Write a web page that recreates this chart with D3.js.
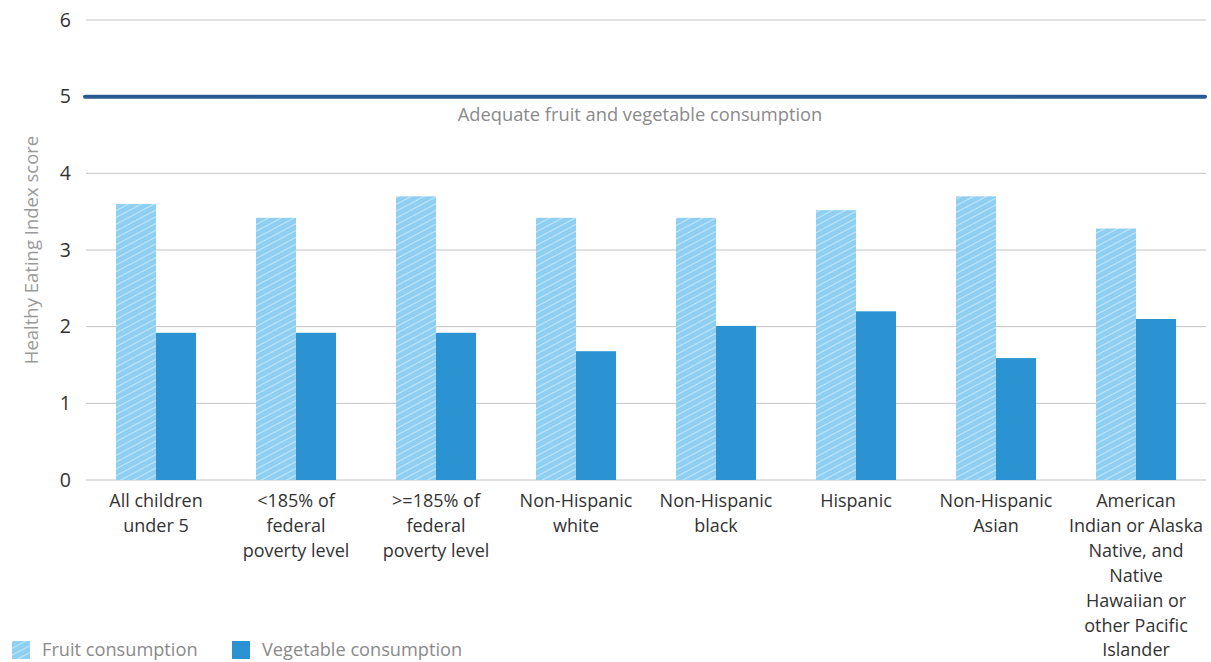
<!DOCTYPE html>
<html>
<head>
<meta charset="utf-8">
<script src="https://cdn.jsdelivr.net/npm/d3@7"></script>
<style>
body { margin:0; background:#fff; }
svg { font-family: "Open Sans", Lato, sans-serif; }
</style>
</head>
<body>
<svg id="chart" width="1211" height="662"></svg>
<script>
var categories = [
  ["All children", "under 5"],
  ["<185% of", "federal", "poverty level"],
  [">=185% of", "federal", "poverty level"],
  ["Non-Hispanic", "white"],
  ["Non-Hispanic", "black"],
  ["Hispanic"],
  ["Non-Hispanic", "Asian"],
  ["American", "Indian or Alaska", "Native, and", "Native", "Hawaiian or", "other Pacific", "Islander"]
];
var fruit = [3.6, 3.42, 3.7, 3.42, 3.42, 3.52, 3.7, 3.28];
var vegetable = [1.92, 1.92, 1.92, 1.68, 2.01, 2.2, 1.59, 2.1];
var yTicks = [0, 1, 2, 3, 4, 5, 6];
var adequate = 5;

var svg = d3.select("#chart");
var x = d3.scaleBand().domain(d3.range(categories.length)).range([86, 1206]).padding(0);
var y = d3.scaleLinear().domain([0, 6]).range([480, 20]);
var barW = 40;

// striped fill for fruit bars
var defs = svg.append("defs");
var pat = defs.append("pattern").attr("id", "stripes").attr("patternUnits", "userSpaceOnUse")
  .attr("width", 6).attr("height", 6).attr("patternTransform", "rotate(62)");
pat.append("rect").attr("width", 6).attr("height", 6).attr("fill", "#8fd0f2");
pat.append("line").attr("x1", 0).attr("y1", 0).attr("x2", 0).attr("y2", 6)
  .attr("stroke", "#c4e6f8").attr("stroke-width", 2);

// grid
svg.append("g").selectAll("line").data(yTicks).join("line")
  .attr("x1", 86).attr("x2", 1206)
  .attr("y1", function(d){ return y(d); }).attr("y2", function(d){ return y(d); })
  .attr("stroke", "#c4c4c4").attr("stroke-width", 1);

svg.append("g").selectAll("text").data(yTicks).join("text")
  .attr("x", 71).attr("y", function(d){ return y(d); }).attr("dy", "0.35em")
  .attr("text-anchor", "end").attr("font-size", 19.5).attr("fill", "#333")
  .text(function(d){ return d; });

svg.append("text").attr("transform", "translate(38,250) rotate(-90)")
  .attr("text-anchor", "middle").attr("font-size", 18.5).attr("fill", "#9a9a9a")
  .text("Healthy Eating Index score");

// bars
svg.append("g").selectAll("rect").data(fruit).join("rect")
  .attr("x", function(d, i){ return x(i) + x.bandwidth() / 2 - barW; })
  .attr("width", barW)
  .attr("y", function(d){ return y(d); })
  .attr("height", function(d){ return y(0) - y(d); })
  .attr("fill", "url(#stripes)");

svg.append("g").selectAll("rect").data(vegetable).join("rect")
  .attr("x", function(d, i){ return x(i) + x.bandwidth() / 2; })
  .attr("width", barW)
  .attr("y", function(d){ return y(d); })
  .attr("height", function(d){ return y(0) - y(d); })
  .attr("fill", "#2b93d1");

// adequate line
svg.append("line").attr("x1", 85).attr("x2", 1205)
  .attr("y1", y(adequate)).attr("y2", y(adequate))
  .attr("stroke", "#285a94").attr("stroke-width", 4).attr("stroke-linecap", "round");
svg.append("text").attr("x", 640).attr("y", y(adequate) + 24)
  .attr("text-anchor", "middle").attr("font-size", 18.3).attr("fill", "#8a8a8a")
  .text("Adequate fruit and vegetable consumption");

// category labels
var labels = svg.append("g").selectAll("text").data(categories).join("text")
  .attr("text-anchor", "middle").attr("font-size", 18).attr("fill", "#333")
  .attr("transform", function(d, i){ return "translate(" + (x(i) + x.bandwidth() / 2) + ",507)"; });
labels.selectAll("tspan").data(function(d){ return d; }).join("tspan")
  .attr("x", 0).attr("y", function(d, j){ return j * 24.9; })
  .text(function(d){ return d; });

// legend
var legend = [["Fruit consumption", "url(#stripes)", 12], ["Vegetable consumption", "#2b93d1", 232]];
var lg = svg.append("g").selectAll("g").data(legend).join("g")
  .attr("transform", function(d){ return "translate(" + d[2] + ",641)"; });
lg.append("rect").attr("width", 18).attr("height", 18).attr("fill", function(d){ return d[1]; });
lg.append("text").attr("x", 30).attr("y", 9).attr("dy", "0.35em")
  .attr("font-size", 18.2).attr("fill", "#8a8a8a").text(function(d){ return d[0]; });
</script>
</body>
</html>
